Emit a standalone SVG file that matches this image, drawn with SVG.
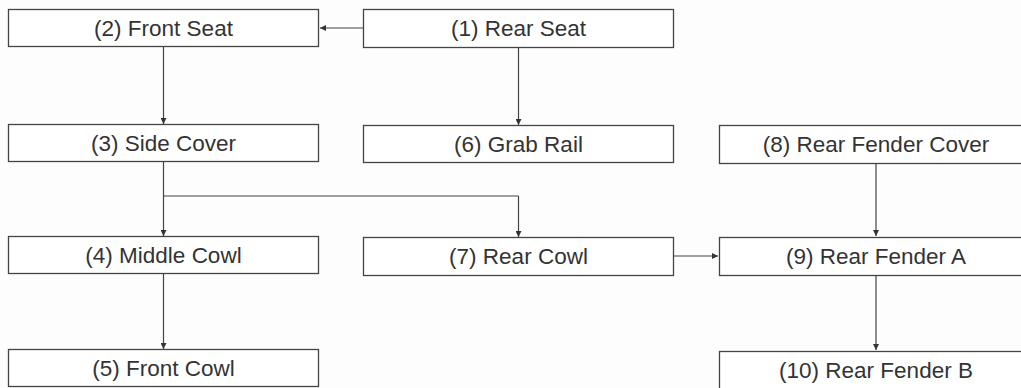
<svg xmlns="http://www.w3.org/2000/svg" width="1021" height="388" viewBox="0 0 1021 388">
<defs>
<marker id="ah" viewBox="0 0 10 10" refX="10" refY="5" markerWidth="8" markerHeight="6" markerUnits="userSpaceOnUse" orient="auto">
<path d="M0,0 L10,5 L0,10 z" fill="#333"/>
</marker>
<style>
.box{fill:#fff;stroke:#444;stroke-width:1.3}
.lbl{font-family:"Liberation Sans",Arial,sans-serif;font-size:22.5px;fill:#333;text-anchor:middle}
.c{fill:none;stroke:#444;stroke-width:1.2}
.a{marker-end:url(#ah)}
</style>
</defs>
<rect width="1021" height="388" fill="#fdfdfd"/>
<g id="connectors">
<path class="c a" d="M363,28 H320"/>
<path class="c a" d="M163.5,47 V124"/>
<path class="c a" d="M518.5,47 V125"/>
<path class="c" d="M163.5,162 V196 H518.5"/>
<path class="c a" d="M163.5,196 V236"/>
<path class="c a" d="M518.5,196 V237"/>
<path class="c a" d="M163.5,274 V349"/>
<path class="c a" d="M674,256 H718"/>
<path class="c a" d="M876,163 V236"/>
<path class="c a" d="M876,275 V350"/>
</g>
<g id="n1"><rect class="box" x="363.5" y="9.5" width="310" height="38"/><text class="lbl" x="518.5" y="36">(1) Rear Seat</text></g>
<g id="n2"><rect class="box" x="8.5" y="9.5" width="310" height="37"/><text class="lbl" x="163.5" y="36">(2) Front Seat</text></g>
<g id="n3"><rect class="box" x="8.5" y="124.5" width="310" height="37"/><text class="lbl" x="163.5" y="151">(3) Side Cover</text></g>
<g id="n4"><rect class="box" x="8.5" y="236.5" width="310" height="37"/><text class="lbl" x="163.5" y="263">(4) Middle Cowl</text></g>
<g id="n5"><rect class="box" x="8.5" y="349.5" width="310" height="37"/><text class="lbl" x="163.5" y="376">(5) Front Cowl</text></g>
<g id="n6"><rect class="box" x="363.5" y="125.5" width="310" height="37"/><text class="lbl" x="518.5" y="152">(6) Grab Rail</text></g>
<g id="n7"><rect class="box" x="363.5" y="237.5" width="310" height="38"/><text class="lbl" x="518.5" y="264">(7) Rear Cowl</text></g>
<g id="n8"><rect class="box" x="719.5" y="125.5" width="312" height="38"/><text class="lbl" x="876" y="152">(8) Rear Fender Cover</text></g>
<g id="n9"><rect class="box" x="719.5" y="237.5" width="312" height="38"/><text class="lbl" x="876" y="264">(9) Rear Fender A</text></g>
<g id="n10"><rect class="box" x="719.5" y="351.5" width="312" height="40"/><text class="lbl" x="876" y="378">(10) Rear Fender B</text></g>
</svg>
